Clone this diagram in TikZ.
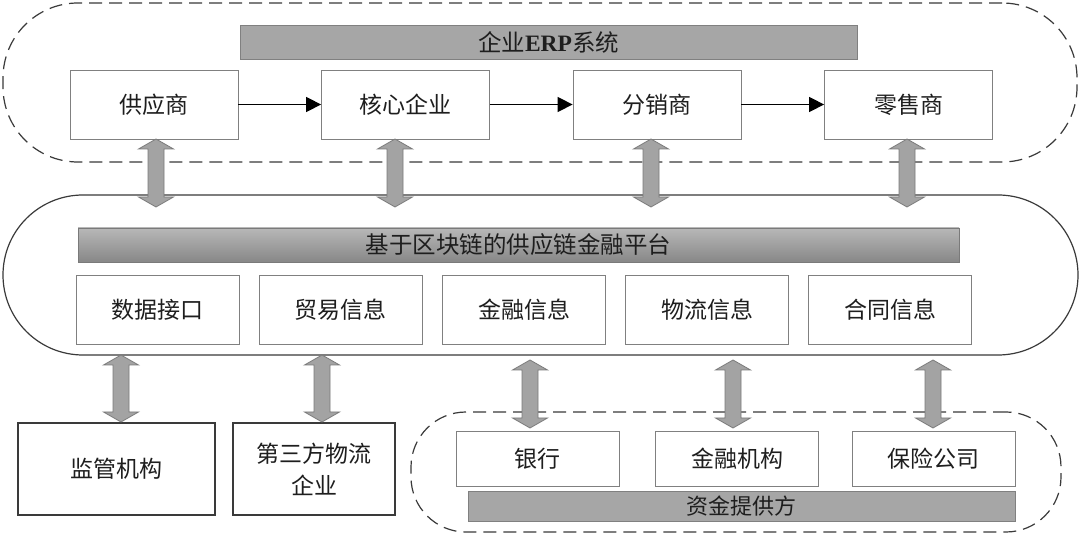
\documentclass[tikz,border=0pt]{standalone}
\usepackage{fontspec}
\setmainfont{Noto Sans CJK SC}
\newfontfamily\erpfont{Liberation Serif}
\usetikzlibrary{arrows.meta,calc}
\definecolor{boxline}{HTML}{808080}
\definecolor{darkline}{HTML}{3A3A3A}
\definecolor{barfill}{HTML}{A6A6A6}
\definecolor{arrfill}{HTML}{A3A3A3}
\definecolor{arrline}{HTML}{7A7A7A}
\definecolor{txt}{HTML}{1E1E1E}
\tikzset{
  infobox/.style={draw=boxline, line width=0.8pt, fill=white, minimum width=163pt, minimum height=69pt, inner sep=0pt, text=txt, font=\fontsize{23}{27}\selectfont},
  darkbox/.style={draw=darkline, line width=1.1pt, fill=white, minimum height=92pt, inner sep=0pt, text=txt, font=\fontsize{23}{32}\selectfont, align=center},
  bankbox/.style={draw=boxline, line width=0.8pt, fill=white, minimum width=163pt, minimum height=55pt, inner sep=0pt, text=txt, font=\fontsize{23}{27}\selectfont},
  barbox/.style={draw=boxline, line width=0.8pt, fill=barfill, inner sep=0pt, text=txt, font=\fontsize{23.5}{27}\selectfont},
  dashzone/.style={draw=darkline, line width=1.2pt, dash pattern=on 13pt off 7pt, inner sep=0pt},
  flow/.style={draw=black, line width=1.5pt, -{Triangle[length=15pt,width=15pt]}},
  fatarr/.style={draw=arrline, line width=0.8pt, fill=arrfill, line join=miter},
}
\newcommand\dbarrow[2]{%
  \draw[fatarr] let \p1=(#1), \p2=(#2) in
    (\x1,\y1) -- (\x1+17.5pt,\y1-10pt) -- (\x1+8pt,\y1-10pt) -- (\x1+8pt,\y2+10pt)
    -- (\x1+17.5pt,\y2+10pt) -- (\x1,\y2) -- (\x1-17.5pt,\y2+10pt) -- (\x1-8pt,\y2+10pt)
    -- (\x1-8pt,\y1-10pt) -- (\x1-17.5pt,\y1-10pt) -- cycle;}
\begin{document}
\begin{tikzpicture}[x=1pt,y=-1pt]
\useasboundingbox (0,0) rectangle (1080,534);
\fill[white] (0,0) rectangle (1080,534);

% zones
\node[dashzone, rounded corners=75pt, minimum width=1074pt, minimum height=159pt] (erpzone) at (540,82.5) {};
\node[draw=darkline, line width=1.2pt, fill=white, rounded corners=80pt, minimum width=1075pt, minimum height=160pt, inner sep=0pt] (plat) at (540.5,275) {};
\node[dashzone, rounded corners=55pt, minimum width=650pt, minimum height=120pt] (fundzone) at (736,472) {};

% ERP
\node[barbox, minimum width=617pt, minimum height=34pt] (erpbar) at (548.5,42) {企业{\erpfont\bfseries ERP}系统};
\node[infobox, minimum width=168pt] (s1) at (154,104.5) {供应商};
\node[infobox, minimum width=168pt] (s2) at (405.5,104.5) {核心企业};
\node[infobox, minimum width=168pt] (s3) at (657,104.5) {分销商};
\node[infobox, minimum width=168pt] (s4) at (908.5,104.5) {零售商};
\draw[flow] (s1) -- (s2);
\draw[flow] (s2) -- (s3);
\draw[flow] (s3) -- (s4);

% platform
\node[barbox, draw=arrline, minimum width=881pt, minimum height=34pt, top color=black!28, bottom color=black!47] (platbar) at (518.5,245) {基于区块链的供应链金融平台};
\node[infobox] (i1) at (157.5,309.5) {数据接口};
\node[infobox] (i2) at (340.5,309.5) {贸易信息};
\node[infobox] (i3) at (524,309.5) {金融信息};
\node[infobox] (i4) at (707,309.5) {物流信息};
\node[infobox] (i5) at (890,309.5) {合同信息};

% bottom
\node[darkbox, minimum width=197pt] (b1) at (116.5,469) {监管机构};
\node[darkbox, minimum width=162pt] (b2) at (314,469) {第三方物流\\企业};
\node[bankbox] (f1) at (537.5,458.5) {银行};
\node[bankbox] (f2) at (737,458.5) {金融机构};
\node[bankbox] (f3) at (933.5,458.5) {保险公司};
\node[barbox, minimum width=547pt, minimum height=30pt, font=\fontsize{22}{26}\selectfont] (fundbar) at (741.5,506) {资金提供方};

% arrow ends
\coordinate (t1) at (156,139); \coordinate (u1) at (156,207);
\coordinate (t2) at (395,139); \coordinate (u2) at (395,207);
\coordinate (t3) at (651,139); \coordinate (u3) at (651,207);
\coordinate (t4) at (907,139); \coordinate (u4) at (907,207);
\coordinate (m1) at (121,355); \coordinate (n1) at (121,422);
\coordinate (m2) at (322,355); \coordinate (n2) at (322,422);
\coordinate (m3) at (530,360); \coordinate (n3) at (530,428);
\coordinate (m4) at (733,360); \coordinate (n4) at (733,428);
\coordinate (m5) at (933,360); \coordinate (n5) at (933,428);
\dbarrow{t1}{u1}
\dbarrow{t2}{u2}
\dbarrow{t3}{u3}
\dbarrow{t4}{u4}
\dbarrow{m1}{n1}
\dbarrow{m2}{n2}
\dbarrow{m3}{n3}
\dbarrow{m4}{n4}
\dbarrow{m5}{n5}
\end{tikzpicture}
\end{document}
